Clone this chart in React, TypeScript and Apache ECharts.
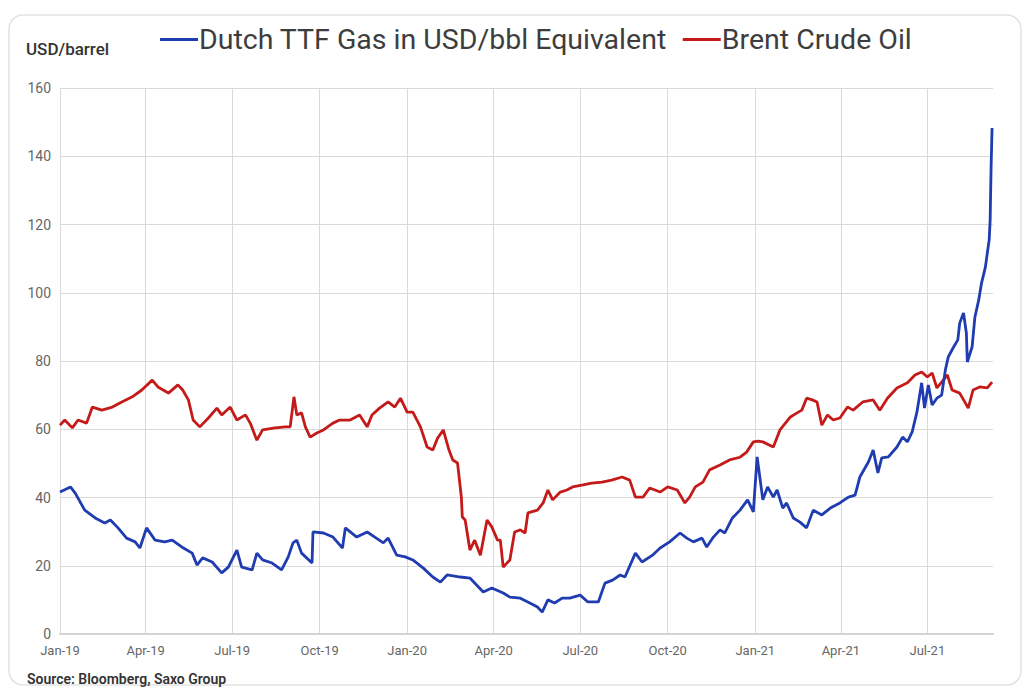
import React, { useEffect, useRef } from "react";
import * as echarts from "echarts";

// Days since 2019-01-01 and values (USD/barrel)
const brentPoints: [number, number][] = [
  [0, 61.2], [5, 62.7], [13, 60.4], [19, 62.7], [28, 61.8], [34, 66.5], [44, 65.6], [55, 66.5], [65, 68], [76, 69.5],
  [86, 71.5], [97, 74.4], [103, 72.4], [114, 70.6], [124, 73], [129, 71.5], [135, 68.6], [140, 62.7], [147, 60.7],
  [156, 63.3], [165, 66.2], [170, 64.2], [179, 66.5], [186, 62.7], [195, 64.2], [200, 61.8], [207, 56.8], [213, 59.8],
  [226, 60.4], [237, 60.7], [242, 60.7], [246, 69.5], [249, 64.2], [254, 64.8], [258, 60.7], [263, 57.7], [270, 58.9],
  [277, 59.8], [287, 61.8], [294, 62.7], [305, 62.7], [315, 64.2], [323, 60.7], [328, 64.2], [336, 66.2], [345, 68],
  [352, 66.5], [358, 69.1], [365, 65], [371, 65], [379, 60.7], [386, 54.8], [392, 53.9], [397, 57.4], [403, 59.8],
  [409, 53.9], [413, 51], [418, 50.1], [422, 40.1], [423, 34.3], [426, 33.4], [431, 24.6], [436, 27.5], [442, 23.1],
  [449, 33.4], [454, 31.4], [460, 27.5], [463, 27.5], [466, 19.6], [473, 21.7], [478, 29.9], [484, 30.5], [489, 29.6],
  [492, 35.5], [502, 36.3], [508, 38.4], [513, 42.2], [518, 39.3], [526, 41.6], [533, 42.2], [539, 43.1], [550, 43.7],
  [559, 44.2], [570, 44.5], [580, 45.1], [591, 46], [599, 45.1], [605, 40.1], [613, 40.1], [620, 42.8], [631, 41.6],
  [639, 43.1], [649, 42.2], [657, 38.4], [662, 40.1], [668, 43.1], [676, 44.5], [683, 48.1], [694, 49.5], [704, 51],
  [715, 51.8], [722, 53.3], [729, 56.3], [734, 56.5], [739, 56.3], [750, 54.8], [757, 59.8], [768, 63.6], [775, 64.8],
  [780, 65.6], [785, 69.1], [791, 68.6], [796, 68], [801, 61.2], [807, 64.2], [813, 62.7], [820, 63.3], [828, 66.5],
  [834, 65.6], [844, 68], [855, 68.6], [862, 65.6], [870, 69.1], [880, 72.1], [891, 73.6], [899, 75.9], [906, 76.8],
  [912, 75.3], [917, 76.5], [922, 72.1], [927, 73.8], [933, 75.9], [938, 71.5], [946, 70.6], [955, 66.2], [960, 71.5],
  [967, 72.4], [975, 72.1], [980, 73.8],
];

const ttfPoints: [number, number][] = [
  [0, 41.6], [11, 43.1], [16, 41.3], [26, 36.3], [37, 34], [47, 32.5], [53, 33.4], [61, 31.1], [70, 28.1], [79, 27],
  [84, 25.2], [91, 31.1], [100, 27.5], [110, 27], [118, 27.5], [128, 25.5], [139, 23.7], [144, 20.2], [150, 22.3],
  [160, 21.1], [170, 17.9], [177, 19.6], [186, 24.6], [191, 19.6], [202, 18.8], [207, 23.7], [213, 21.7], [223, 20.8],
  [233, 18.8], [240, 22.6], [245, 26.7], [249, 27.5], [254, 23.7], [265, 20.8], [266, 29.9], [277, 29.6], [287, 28.4],
  [297, 25.2], [300, 31.1], [312, 28.4], [323, 29.9], [331, 28.4], [340, 26.7], [345, 28.1], [354, 23.1], [363, 22.6],
  [371, 21.7], [382, 19.3], [392, 16.7], [400, 15.2], [407, 17.3], [421, 16.7], [431, 16.4], [445, 12.3], [454, 13.5],
  [466, 12], [473, 10.8], [484, 10.5], [494, 9.1], [502, 7.9], [507, 6.4], [513, 10], [520, 9.1], [528, 10.5],
  [536, 10.5], [547, 11.4], [555, 9.4], [566, 9.4], [573, 14.9], [581, 15.8], [589, 17.3], [594, 16.7], [605, 23.7],
  [612, 21.1], [623, 23.1], [631, 25.2], [641, 27], [652, 29.6], [659, 28.1], [666, 27], [675, 28.1], [680, 25.5],
  [687, 28.4], [694, 30.5], [699, 29.6], [707, 34], [715, 36.3], [723, 39.3], [729, 35.8], [733, 51.9], [739, 39.3],
  [744, 43.1], [750, 40.1], [754, 42.2], [760, 36.9], [764, 38.4], [771, 34], [778, 32.8], [785, 31.1], [792, 36.3],
  [801, 34.9], [810, 36.9], [820, 38.4], [829, 40.1], [836, 40.7], [841, 46], [850, 50.4], [855, 53.9], [860, 47.2],
  [864, 51.6], [871, 51.9], [880, 54.8], [886, 57.7], [891, 56.3], [896, 59.2], [901, 65], [906, 73.6], [909, 66.2],
  [913, 73], [917, 67.1], [922, 69.1], [927, 70], [931, 77.5], [934, 81.2], [939, 83.8], [944, 86.2], [946, 91.1],
  [950, 94.1], [953, 88.2], [954, 79.7], [959, 84.1], [962, 92.9], [966, 97.9], [969, 102.9], [973, 107.5],
  [975, 111.6], [977, 115.5], [978, 121.3], [979, 136.8], [980, 148.3],
];

const startYear = 2019;
const lastDay = 981;
const quarterTicks: [number, number][] = [
  [2019, 0], [2019, 3], [2019, 6], [2019, 9], [2020, 0], [2020, 3], [2020, 6], [2020, 9], [2021, 0], [2021, 3], [2021, 6],
];
const monthNames = ["Jan", "Feb", "Mar", "Apr", "May", "Jun", "Jul", "Aug", "Sep", "Oct", "Nov", "Dec"];
const seriesNames = ["Dutch TTF Gas in USD/bbl Equivalent", "Brent Crude Oil"];
const yTicks = { min: 0, max: 160, interval: 20 };

const DAY = 86400000;
const t0 = Date.UTC(startYear, 0, 1);
const dayOf = (y: number, m: number) => Math.round((Date.UTC(y, m, 1) - t0) / DAY);

export default function App() {
  const ref = useRef<HTMLDivElement>(null);
  useEffect(() => {
    if (!ref.current) return;
    const chart = echarts.init(ref.current, undefined, { renderer: "svg" });
    const tickValues = quarterTicks.map(([y, m]) => dayOf(y, m));
    chart.setOption({
      animation: false,
      backgroundColor: "#ffffff",
      title: {
        text: "USD/barrel",
        left: 21,
        top: 35,
        textStyle: { fontFamily: "Roboto", fontSize: 17, fontWeight: 500, color: "#333" },
      },
      legend: {
        left: 155,
        top: 20,
        icon: "rect",
        itemWidth: 38,
        itemHeight: 3,
        itemGap: 16,
        textStyle: { fontFamily: "Roboto", fontSize: 28.5, color: "#3d3d3d", padding: [0, 0, 0, -4] },
        data: seriesNames,
      },
      graphic: [
        {
          type: "rect",
          shape: { x: 9, y: 15, width: 1012, height: 670, r: 14 },
          style: { fill: "none", stroke: "#e3e3e3", lineWidth: 1.5 },
          silent: true,
        },
        {
          type: "text",
          left: 27,
          top: 672,
          style: {
            text: "Source: Bloomberg, Saxo Group",
            fontFamily: "Roboto",
            fontSize: 14,
            fontWeight: 600,
            fill: "#333",
          },
        },
      ],
      grid: { left: 60, right: 35, top: 88, bottom: 57 },
      xAxis: {
        type: "value",
        min: 0,
        max: lastDay,
        axisLine: { show: true, lineStyle: { color: "#d4d4d4", width: 2 } },
        axisTick: { show: false, customValues: tickValues },
        splitLine: { show: true, lineStyle: { color: "#d9d9d9", width: 1 } },
        axisLabel: {
          customValues: tickValues,
          color: "#666",
          fontFamily: "Roboto",
          fontSize: 13,
          margin: 10,
          formatter: (v: number) => {
            const d = new Date(t0 + v * DAY);
            return monthNames[d.getUTCMonth()] + "-" + String(d.getUTCFullYear()).slice(2);
          },
        },
      },
      yAxis: {
        type: "value",
        min: yTicks.min,
        max: yTicks.max,
        interval: yTicks.interval,
        axisLine: { show: false },
        axisTick: { show: false },
        splitLine: { lineStyle: { color: "#d9d9d9", width: 1 } },
        axisLabel: { color: "#666", fontFamily: "Roboto", fontSize: 14, margin: 9 },
      },
      series: [
        {
          name: seriesNames[0],
          type: "line",
          showSymbol: false,
          symbol: "none",
          color: "#1f3cb0",
          lineStyle: { width: 2.8, color: "#1f3cb0" },
          data: ttfPoints,
        },
        {
          name: seriesNames[1],
          type: "line",
          showSymbol: false,
          symbol: "none",
          color: "#c41a1a",
          lineStyle: { width: 2.8, color: "#c41a1a" },
          data: brentPoints,
          z: 1,
        },
      ],
    });
    return () => chart.dispose();
  }, []);
  return (
    <div
      ref={ref}
      style={{ position: "fixed", left: 0, top: 0, width: 1028, height: 691 }}
    />
  );
}
